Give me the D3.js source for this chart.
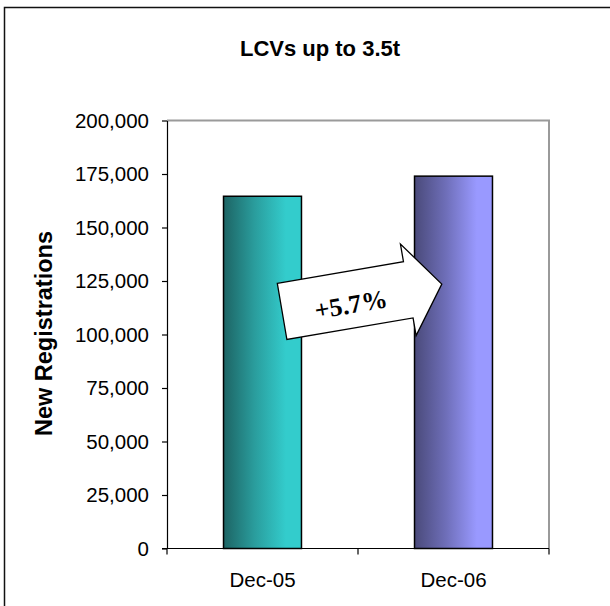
<!DOCTYPE html>
<html>
<head>
<meta charset="utf-8">
<script src="https://cdn.jsdelivr.net/npm/d3@7"></script>
<style>
  html, body { margin: 0; padding: 0; background: #fff; }
  svg { display: block; }
</style>
</head>
<body>
<svg id="chart" width="610" height="606"></svg>
<script>
// ---- data ----
const title = "LCVs up to 3.5t";
const yTitle = "New Registrations";
const categories = ["Dec-05", "Dec-06"];
const registrations = [164600, 174000];
const yTicks = [0, 25000, 50000, 75000, 100000, 125000, 150000, 175000, 200000];
const changeLabel = "+5.7%";

// ---- layout ----
const svg = d3.select("#chart");
const W = 610, H = 606;
const plot = { left: 167, right: 549, top: 120.5, bottom: 548.5 };

// outer frame
svg.append("rect")
  .attr("x", 4.5).attr("y", 7.5)
  .attr("width", W + 20).attr("height", H + 20)
  .attr("fill", "#fff").attr("stroke", "#111").attr("stroke-width", 1.5);

// gradients
const defs = svg.append("defs");
const gradStops = [
  ["#1d6464", "#2a9d9d", "#33cccc"],
  ["#4a4a7a", "#6e6eb8", "#9999ff"]
];
gradStops.forEach((s, i) => {
  const g = defs.append("linearGradient").attr("id", "g" + i)
    .attr("x1", "0%").attr("x2", "100%").attr("y1", "0%").attr("y2", "0%");
  g.append("stop").attr("offset", "0%").attr("stop-color", s[0]);
  g.append("stop").attr("offset", "40%").attr("stop-color", s[1]);
  g.append("stop").attr("offset", "80%").attr("stop-color", s[2]);
  g.append("stop").attr("offset", "100%").attr("stop-color", s[2]);
});

const y = d3.scaleLinear().domain([0, 200000]).range([plot.bottom, plot.top]);
const x = d3.scaleBand().domain(categories).range([plot.left, plot.right]).padding(0);
const barW = x.bandwidth() / 2.45;

// plot area top / right border (gray)
svg.append("path")
  .attr("d", `M${plot.left},${plot.top}H${plot.right}V${plot.bottom}`)
  .attr("fill", "none").attr("stroke", "#9a9a9a").attr("stroke-width", 2);

// bars
svg.selectAll("rect.bar").data(registrations).enter().append("rect")
  .attr("class", "bar")
  .attr("x", (d, i) => x(categories[i]) + (x.bandwidth() - barW) / 2)
  .attr("y", d => y(d))
  .attr("width", barW)
  .attr("height", d => y(0) - y(d))
  .attr("fill", (d, i) => `url(#g${i})`)
  .attr("stroke", "#000").attr("stroke-width", 1.5);

// y axis
const yAxis = svg.append("g")
  .attr("transform", `translate(${plot.left},0)`)
  .call(d3.axisLeft(y).tickValues(yTicks).tickFormat(d3.format(",")).tickSize(5).tickSizeOuter(0).tickPadding(13));
yAxis.select(".domain").attr("stroke", "#000").attr("stroke-width", 1.2);
yAxis.selectAll(".tick line").attr("stroke", "#000").attr("stroke-width", 1.2);
yAxis.selectAll(".tick text")
  .attr("font-family", "Liberation Sans, Arial, sans-serif")
  .attr("font-size", 20.5).attr("fill", "#000");

// x axis
const xAxis = svg.append("g")
  .attr("transform", `translate(0,${plot.bottom})`)
  .call(d3.axisBottom(x).tickSize(0).tickPadding(24));
xAxis.select(".domain").remove();
xAxis.append("line").attr("x1", plot.left - 5).attr("x2", plot.right)
  .attr("stroke", "#000").attr("stroke-width", 1.2);
const bounds = [plot.left, ...categories.map(c => x(c) + x.bandwidth())];
xAxis.selectAll("line.tk").data(bounds).enter().append("line")
  .attr("class", "tk")
  .attr("x1", d => d).attr("x2", d => d).attr("y1", 0).attr("y2", 6)
  .attr("stroke", "#000").attr("stroke-width", 1.2);
xAxis.selectAll(".tick text")
  .attr("font-family", "Liberation Sans, Arial, sans-serif")
  .attr("font-size", 20.5).attr("fill", "#000");

// title
svg.append("text")
  .attr("x", 320).attr("y", 56)
  .attr("text-anchor", "middle")
  .attr("font-family", "Liberation Sans, Arial, sans-serif")
  .attr("font-weight", "bold").attr("font-size", 22)
  .text(title);

// y title
svg.append("text")
  .attr("transform", `translate(52,${(plot.top + plot.bottom) / 2 - 1}) rotate(-90)`)
  .attr("text-anchor", "middle")
  .attr("font-family", "Liberation Sans, Arial, sans-serif")
  .attr("font-weight", "bold").attr("font-size", 23.5)
  .text(yTitle);

// block arrow annotation
const arrow = svg.append("g").attr("transform", "translate(277.3,283.3) rotate(-9.7)");
const bodyL = 128, bodyH = 57, headOver = 18, headLen = 34;
const arrowPts = [
  [0, 0], [bodyL, 0], [bodyL, -headOver], [bodyL + headLen, bodyH / 2],
  [bodyL, bodyH + headOver], [bodyL, bodyH], [0, bodyH]
];
arrow.append("polygon")
  .attr("points", arrowPts.map(p => p.join(",")).join(" "))
  .attr("fill", "#fff").attr("stroke", "#000").attr("stroke-width", 1.3);
arrow.append("text")
  .attr("x", 69).attr("y", 33).attr("dy", "0.35em")
  .attr("text-anchor", "middle")
  .attr("font-family", "Liberation Serif, Times New Roman, serif")
  .attr("font-weight", "bold").attr("font-size", 26)
  .text(changeLabel);
</script>
</body>
</html>
